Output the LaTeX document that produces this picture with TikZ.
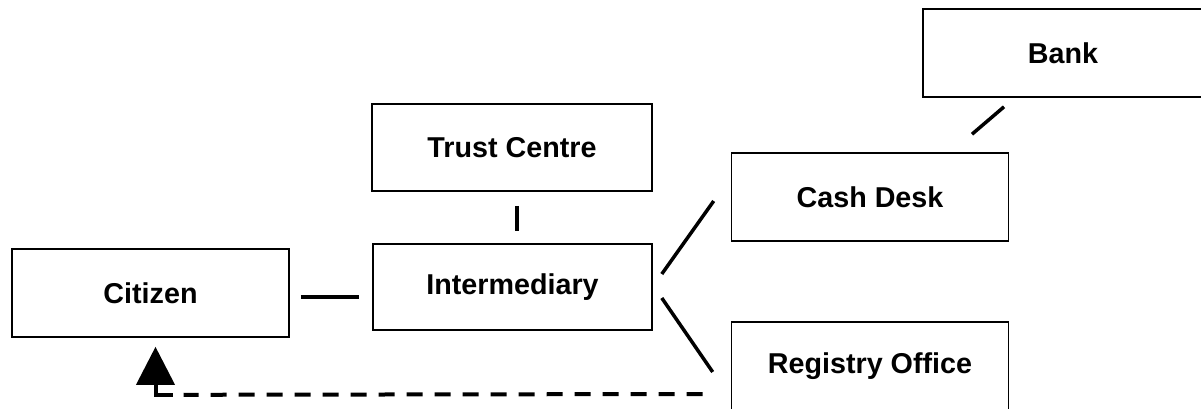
\documentclass[tikz,border=0pt]{standalone}
\usepackage{fontspec}
\setmainfont{Liberation Sans}
\usetikzlibrary{calc,arrows.meta}

\tikzset{
  party/.style={draw=black, line width=1.6pt, rectangle, inner sep=0pt,
    minimum width=277pt, minimum height=88pt,
    font=\fontsize{28.7pt}{34pt}\selectfont\bfseries},
  link/.style={draw=black, line width=3.5pt},
  reply/.style={draw=black, line width=4pt, dash pattern=on 16pt off 12pt},
}

\begin{document}
\begin{tikzpicture}[x=1pt,y=-1pt]
  \fill[white] (0,0) rectangle (1201,408);
  \useasboundingbox (0,0) rectangle (1201,408);
  \clip (0,0) rectangle (1201,408);

  % the parties
  \node[party, minimum width=280pt] (bank) at (1063,53) {Bank};
  \node[party, minimum width=280pt, minimum height=87pt] (tc) at (512,147.5) {Trust Centre};
  \node[party] (cash) at (870,197) {Cash Desk};
  \node[party] (cit) at (150.5,293) {Citizen};
  \node[party, minimum width=279pt, minimum height=86pt] (int) at (512.5,287) {Intermediary};
  \node[party] (reg) at (870,366) {Registry Office};

  % links between the parties
  \draw[link] ($(cit.east)+(11,4)$) -- ($(int.west)+(-13,10)$);
  \draw[link] ($(tc.south)+(5,14)$) -- ($(int.north)+(4.5,-12)$);
  \draw[link] ($(int.east)+(9,-13)$) -- ($(cash.west)+(-17,4)$);
  \draw[link] ($(int.east)+(9,11)$) -- ($(reg.west)+(-18,6)$);
  \draw[link] ($(cash.north)+(102,-18)$) -- ($(bank.south)+(-59,9)$);

  % reply from the registry office back to the citizen
  \coordinate (turn) at ($(cit.south)+(5,57)$);
  \coordinate (tip) at ($(cit.south)+(5,9)$);
  \draw[reply] ($(reg.west)+(-28,28)$) -- ($(turn)+(28,0)$);
  \draw[link, line width=4pt, miter limit=10, -{Triangle[length=38pt,width=38pt]}]
    ($(turn)+(17,0)$) -- (turn) -- (tip);
\end{tikzpicture}
\end{document}
